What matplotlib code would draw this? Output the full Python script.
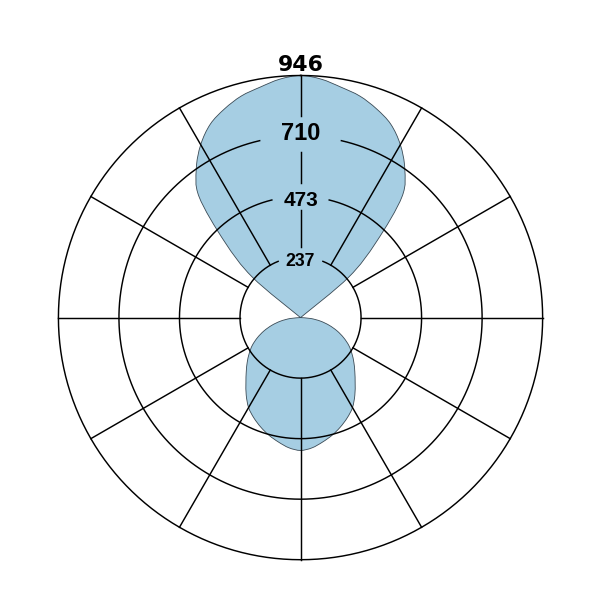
import numpy as np
import matplotlib
matplotlib.use("Agg")
import matplotlib.pyplot as plt
from matplotlib.path import Path
from matplotlib.patches import PathPatch
from matplotlib.transforms import IdentityTransform

# ---- data (angle in degrees, clockwise from top; intensity values) ----
angles_deg = list(range(0, 360, 5))
intensity = [
    946, 935, 914, 896, 868, 834, 780, 710, 617, 420, 245, 0,      # 0..55
    0, 0, 0, 0, 0, 0,                                              # 60..85
    0, 40, 79, 116, 152, 186, 218, 245, 272, 300, 332, 370,        # 90..145
    406, 432, 455, 476, 494, 511,                                  # 150..175
    519, 511, 494, 476, 455, 432, 406,                             # 180..210
    370, 332, 300, 272, 245, 218, 186, 152, 116, 79, 40, 0,        # 215..270
    0, 0, 0, 0, 0, 0,                                              # 275..300
    0, 245, 420, 617, 710, 780, 834, 868, 896, 914, 935,           # 305..355
]
ring_values = [237, 473, 710, 946]
ring_radii = [236.5, 473, 709.5, 946]
r_max = 946

fill_color = "#a6cee3"

fig = plt.figure(figsize=(6.01, 6.01), dpi=100)
ax = fig.add_axes([0.0972, 0.0687, 0.8057, 0.8057], projection="polar")
ax.set_theta_zero_location("N")
ax.set_theta_direction(-1)
ax.set_ylim(0, r_max)
ax.grid(False)
ax.set_xticks([])
ax.set_yticks([])
ax.spines["polar"].set_visible(False)
ax.patch.set_visible(False)

# ---- smooth closed curve (cardinal / Catmull-Rom style) through the data ----
theta = np.deg2rad(angles_deg)
pts = ax.transData.transform(np.column_stack([theta, intensity]))
n = len(pts)
verts = [pts[0]]
codes = [Path.MOVETO]
for i in range(n):
    p0, p1, p2, p3 = pts[i - 1], pts[i], pts[(i + 1) % n], pts[(i + 2) % n]
    if np.allclose(p1, p2):
        verts.append(p2)
        codes.append(Path.LINETO)
        continue
    c1 = p1 + (p2 - p0) / 6.0
    c2 = p2 - (p3 - p1) / 6.0
    verts += [c1, c2, p2]
    codes += [Path.CURVE4] * 3
verts.append(pts[0])
codes.append(Path.CLOSEPOLY)
shape = PathPatch(Path(np.array(verts), codes), transform=IdentityTransform(),
                  facecolor=fill_color, edgecolor="#3a4a55", linewidth=0.6,
                  zorder=1, clip_on=False)
ax.add_artist(shape)

lw = 1.05
# circles with gaps at the top for the labels
gaps = {236.5: 21.7, 473: 13.7, 709.5: 13.0, 946: 0.0}
for rv in ring_radii:
    g = gaps[rv]
    t = np.deg2rad(np.linspace(g, 360 - g, 721))
    ax.plot(t, np.full_like(t, rv), color="black", lw=lw, zorder=2, clip_on=False)

# radial spokes
for a in range(30, 360, 30):
    ax.plot([np.deg2rad(a)] * 2, [236.5, 946], color="black", lw=lw, zorder=2, clip_on=False)
for (r0, r1) in [(788, 946), (525, 648), (277, 420)]:
    ax.plot([0, 0], [r0, r1], color="black", lw=lw, zorder=2, clip_on=False)

# labels
label_specs = [
    ("237", 236.5, -6.1, 12.7, "Liberation Sans"),
    ("473", 473, -6.8, 15.0, "Liberation Sans"),
    ("710", 709.5, -3.0, 17.0, "Liberation Sans"),
    ("946", 946, 2.9, 15.8, "DejaVu Sans"),
]
for txt, rv, dy, fs, fam in label_specs:
    ax.annotate(txt, xy=(0, rv), xytext=(0, dy), textcoords="offset points",
                ha="center", va="baseline", fontsize=fs, fontweight="bold",
                family=fam, color="black", zorder=3, annotation_clip=False)

fig.savefig("out.png", dpi=100, facecolor="white")
